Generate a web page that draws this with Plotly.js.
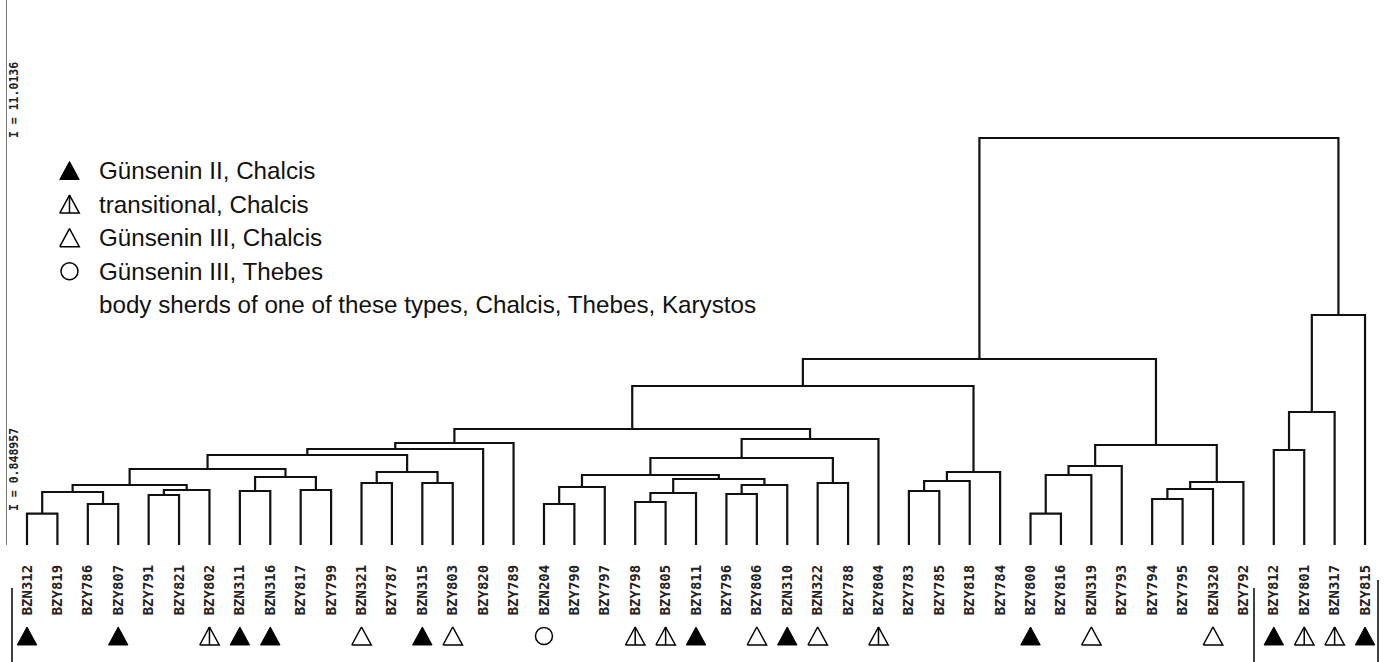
<!DOCTYPE html>
<html><head><meta charset="utf-8">
<script src="https://cdn.plot.ly/plotly-3.0.1.min.js"></script>
<style>html,body{margin:0;padding:0;background:#fff}#chart{width:1386px;height:662px}</style>
</head><body><div id="chart"></div>
<script>
// ---------------- data ----------------
const leafLabels = ["BZN312","BZY819","BZY786","BZY807","BZY791","BZY821","BZY802","BZN311","BZN316","BZY817","BZY799","BZN321","BZY787","BZN315","BZY803","BZY820","BZY789","BZN204","BZY790","BZY797","BZY798","BZY805","BZY811","BZY796","BZY806","BZN310","BZN322","BZY788","BZY804","BZY783","BZY785","BZY818","BZY784","BZY800","BZY816","BZN319","BZY793","BZY794","BZY795","BZN320","BZY792","BZY812","BZY801","BZN317","BZY815"];
// gii = Günsenin II Chalcis, trans = transitional, giii = Günsenin III Chalcis, thebes = Günsenin III Thebes, "" = body sherd
const leafSymbol = ["gii","","","gii","","","trans","gii","gii","","","giii","","gii","giii","","","thebes","","","trans","trans","gii","","giii","gii","giii","","trans","","","","","gii","","giii","","","","giii","","gii","trans","trans","gii"];
// merges: ids 0..44 are leaves, id 45+k is merge k
const mergeLeft  = [0,2,45,4,48,47,7,9,51,50,11,13,55,54,58,59,17,61,20,63,23,65,64,62,26,68,70,60,29,73,74,72,33,77,78,37,80,81,79,76,41,85,86,84];
const mergeRight = [1,3,46,5,6,49,8,10,52,53,12,14,56,57,15,16,18,19,21,22,24,25,66,67,27,69,28,71,30,31,32,75,34,35,36,38,39,40,82,83,42,43,44,87];
const mergeHeight = [0.848957,1.109,1.434,1.353,1.488,1.624,1.461,1.488,1.840,2.057,1.678,1.678,1.975,2.435,2.598,2.760,
  1.109,1.569,1.164,1.407,1.380,1.624,1.786,1.894,1.678,2.354,2.868,3.139,1.461,1.732,1.975,4.303,
  0.848957,1.894,2.138,1.245,1.515,1.705,2.706,5.033,2.571,3.599,6.224,11.0136];
const symbolKinds = ["gii","trans","giii","thebes"];
const legendLabels = ["Günsenin II, Chalcis","transitional, Chalcis","Günsenin III, Chalcis","Günsenin III, Thebes","body sherds of one of these types, Chalcis, Thebes, Karystos"];
const scaleLabels = ["I = 11.0136","I = 0.848957"];

// ---------------- layout constants ----------------
const W = 1386, H = 662, ML = 7;
const LEAF0 = 27, LEAFSTEP = 30.41;         // pixel position of first leaf and spacing
const BASE_PX = 545, PX_PER_UNIT = 36.955;  // dendrogram baseline and vertical scale
const xr = [(ML - LEAF0) / LEAFSTEP, (W - LEAF0) / LEAFSTEP];
const yDomBottom = (H - BASE_PX) / H;
const yr = [0, BASE_PX / PX_PER_UNIT];
const ROW_DOM = 0.1, ROW_H = ROW_DOM * H;

// ---------------- dendrogram ----------------
const nLeaf = leafLabels.length;
const centerX = [], nodeH = [];
for (let i = 0; i < nLeaf; i++) { centerX[i] = i; nodeH[i] = 0; }
const dx = [], dy = [];
for (let k = 0; k < mergeLeft.length; k++) {
  const a = mergeLeft[k], b = mergeRight[k], h = mergeHeight[k];
  dx.push(centerX[a], centerX[a], centerX[b], centerX[b], null);
  dy.push(nodeH[a], h, h, nodeH[b], null);
  centerX[nLeaf + k] = (centerX[a] + centerX[b]) / 2;
  nodeH[nLeaf + k] = h;
}
const traces = [{
  type: 'scatter', mode: 'lines', x: dx, y: dy, xaxis: 'x', yaxis: 'y',
  line: {color: '#111', width: 2.2, shape: 'linear'}, hoverinfo: 'skip', showlegend: false, cliponaxis: false
}];

// ---------------- symbols ----------------
const TRI_W = 19.5, TRI_H = 18, CIRC = 17;
function symbolTraces(items, xa, ya, pxX, pxY) {
  // items: [{kind, x, y}] ; pxX/pxY convert pixel offsets (right / up) to axis units
  const fill = {x: [], y: []}, open = {x: [], y: []}, circ = {x: [], y: []};
  items.forEach(it => {
    const bl = [it.x + pxX(-TRI_W / 2), it.y + pxY(-TRI_H / 2)];
    const br = [it.x + pxX(TRI_W / 2), it.y + pxY(-TRI_H / 2)];
    const ap = [it.x, it.y + pxY(TRI_H / 2)];
    const mid = [it.x, it.y + pxY(-TRI_H / 2)];
    if (it.kind === 'gii') {
      fill.x.push(bl[0], br[0], ap[0], bl[0], null); fill.y.push(bl[1], br[1], ap[1], bl[1], null);
    } else if (it.kind === 'giii' || it.kind === 'trans') {
      open.x.push(bl[0], br[0], ap[0], bl[0], null); open.y.push(bl[1], br[1], ap[1], bl[1], null);
      if (it.kind === 'trans') { open.x.push(ap[0], mid[0], null); open.y.push(ap[1], mid[1], null); }
    } else if (it.kind === 'thebes') {
      circ.x.push(it.x); circ.y.push(it.y);
    }
  });
  return [
    {type: 'scatter', mode: 'lines', x: fill.x, y: fill.y, xaxis: xa, yaxis: ya, fill: 'toself', fillcolor: '#000',
     line: {color: '#000', width: 1}, hoverinfo: 'skip', showlegend: false, cliponaxis: false},
    {type: 'scatter', mode: 'lines', x: open.x, y: open.y, xaxis: xa, yaxis: ya,
     line: {color: '#000', width: 1.5}, hoverinfo: 'skip', showlegend: false, cliponaxis: false},
    {type: 'scatter', mode: 'markers', x: circ.x, y: circ.y, xaxis: xa, yaxis: ya,
     marker: {symbol: 'circle-open', size: CIRC, color: '#000', line: {width: 1.5, color: '#000'}},
     hoverinfo: 'skip', showlegend: false, cliponaxis: false}
  ];
}
// data symbol row (x = leaf axis, y2 = pixel-height axis)
const ROW_CENTER_PX = 636;
const rowItems = [];
leafSymbol.forEach((s, i) => { if (s) rowItems.push({kind: s, x: i, y: H - ROW_CENTER_PX}); });
traces.push(...symbolTraces(rowItems, 'x', 'y2', v => v / LEAFSTEP, v => v));

// legend symbols (pixel overlay axes x2 / y3)
const LEG_X = 69.5, LEG_Y0 = 170.5, LEG_DY = 33.6, LEG_TX = 97;
const legItems = symbolKinds.map((k, i) => ({kind: k, x: LEG_X, y: LEG_Y0 + i * LEG_DY}));
traces.push(...symbolTraces(legItems, 'x2', 'y3', v => v, v => -v));

const annotations = legendLabels.map((t, i) => ({
  text: t, x: LEG_TX, y: LEG_Y0 + i * LEG_DY, xref: 'x2', yref: 'y3', xanchor: 'left', yanchor: 'middle',
  showarrow: false, font: {family: 'Liberation Sans, Arial, sans-serif', size: 24.2, color: '#111'}
}));
[[scaleLabels[0], 100], [scaleLabels[1], 470]].forEach(([t, yy]) => annotations.push({
  text: t, x: 14, y: yy, xref: 'x2', yref: 'y3', textangle: -90, showarrow: false,
  xanchor: 'center', yanchor: 'middle',
  font: {family: 'DejaVu Sans Mono, monospace', size: 11.5, color: '#222', weight: 'bold'}
}));

const shapes = [[12, 588], [1254, 588], [1378, 580]].map(([px, top]) => ({
  type: 'line', xref: 'x2', yref: 'y3', x0: px, x1: px, y0: top, y1: H,
  line: {color: '#000', width: 1.5}
}));

const layout = {
  width: W, height: H, margin: {l: ML, r: 0, t: 0, b: 0, pad: 0},
  paper_bgcolor: '#fff', plot_bgcolor: 'rgba(0,0,0,0)', showlegend: false,
  xaxis: {range: xr, domain: [0, 1], anchor: 'y', tickmode: 'array',
    tickvals: leafLabels.map((_, i) => i), ticktext: leafLabels, tickangle: -90,
    ticks: '', ticklabelstandoff: 16, showgrid: false, zeroline: false, showline: false,
    tickfont: {family: 'DejaVu Sans Mono, monospace', size: 14, color: '#222', weight: 'bold'}},
  yaxis: {range: yr, domain: [yDomBottom, 1], anchor: 'x', showline: true, linecolor: '#777', linewidth: 1.5,
    ticks: '', showticklabels: false, showgrid: false, zeroline: false},
  yaxis2: {range: [0, ROW_H], domain: [0, ROW_DOM], anchor: 'x', visible: false},
  xaxis2: {range: [ML, W], domain: [0, 1], anchor: 'y3', visible: false},
  yaxis3: {range: [H, 0], domain: [0, 1], anchor: 'x2', visible: false},
  annotations: annotations, shapes: shapes
};
Plotly.newPlot('chart', traces, layout, {staticPlot: true, displayModeBar: false});
</script></body></html>
